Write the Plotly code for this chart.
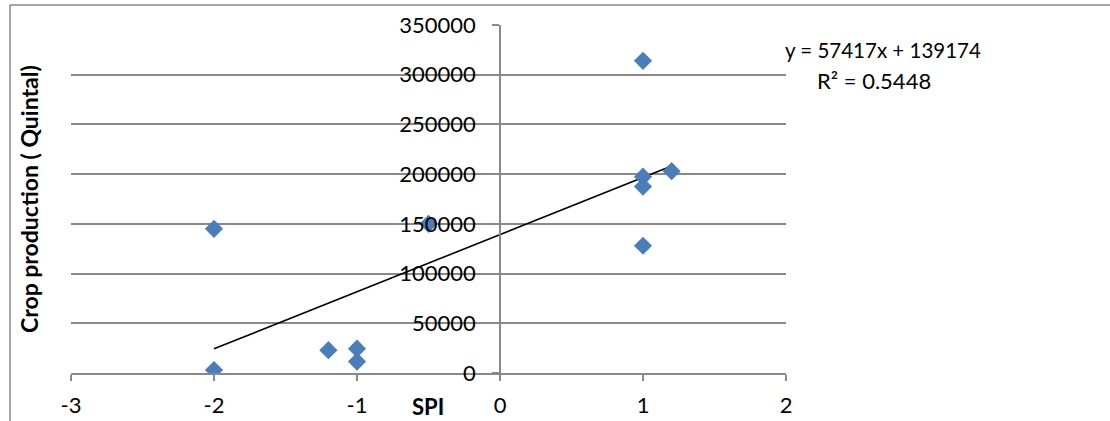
import plotly.graph_objects as go

# Observed SPI values and crop production (quintal)
spi = [-2, -2, -1.2, -1, -1, -0.5, 1, 1, 1, 1, 1.2]
production = [145000, 3000, 23000, 24500, 11500, 150000, 314000, 197500, 187500, 128000, 203000]

# Linear trendline as reported on the chart
slope = 57417
intercept = 139174
r_squared = 0.5448

x_ticks = [-3, -2, -1, 0, 1, 2]
y_ticks = [0, 50000, 100000, 150000, 200000, 250000, 300000, 350000]

W, H = 1110, 421
L, R, T, B = 71, 324, 25, 48
PW, PH = W - L - R, H - T - B

FONT = "Lato"
GRID = "#898989"
FS = 22


def px_x(px):
    return (px - L) / PW


def px_y(py):
    return 1 - (py - T) / PH


trend_x = [min(spi), max(spi)]
trend_y = [slope * v + intercept for v in trend_x]

fig = go.Figure()

fig.add_trace(go.Scatter(
    x=trend_x, y=trend_y, mode="lines",
    line=dict(color="black", width=1.6),
    hoverinfo="skip", showlegend=False,
))

fig.add_trace(go.Scatter(
    x=spi, y=production, mode="markers",
    marker=dict(symbol="diamond", size=14, color="#4a7ebb",
                line=dict(width=0)),
    showlegend=False,
))

fig.update_layout(
    width=W, height=H,
    margin=dict(l=L, r=R, t=T, b=B, autoexpand=False),
    paper_bgcolor="white", plot_bgcolor="white",
    font=dict(family=FONT, size=FS, color="black"),
    xaxis=dict(
        range=[-3, 2], tickvals=x_ticks, ticktext=[str(v) for v in x_ticks],
        showgrid=False, zeroline=False,
        showline=True, linecolor=GRID, linewidth=1.5,
        ticks="outside", ticklen=6, tickcolor=GRID, tickwidth=1.5,
        ticklabelstandoff=6, automargin=False,
        tickfont=dict(family=FONT, size=FS, color="black"),
    ),
    yaxis=dict(
        range=[0, 350000], tickvals=y_ticks, ticktext=[str(v) for v in y_ticks],
        anchor="free", position=0.6, side="left",
        showgrid=True, gridcolor=GRID, gridwidth=1.5,
        zeroline=False,
        showline=True, linecolor=GRID, linewidth=1.5,
        ticks="outside", ticklen=7, tickcolor=GRID, tickwidth=1.5,
        ticklabelstandoff=12, automargin=False,
        tickfont=dict(family=FONT, size=FS, color="black"),
    ),
)

# Axis titles
fig.add_annotation(
    text="<b>SPI</b>", xref="paper", yref="paper",
    x=px_x(428), y=px_y(406), showarrow=False,
    font=dict(family=FONT, size=FS, color="black"),
    xanchor="center", yanchor="middle",
)
fig.add_annotation(
    text="<b>Crop production ( Quintal)</b>", xref="paper", yref="paper",
    x=px_x(29), y=px_y(199), showarrow=False, textangle=-90,
    font=dict(family=FONT, size=23, color="black"),
    xanchor="center", yanchor="middle",
)

# Trendline equation and R²
fig.add_annotation(
    text=f"y = {slope}x + {intercept}", xref="paper", yref="paper",
    x=px_x(783), y=px_y(50), showarrow=False,
    font=dict(family=FONT, size=20.5, color="black"),
    xanchor="left", yanchor="middle",
)
fig.add_annotation(
    text=f"R² = {r_squared}", xref="paper", yref="paper",
    x=px_x(815), y=px_y(80), showarrow=False,
    font=dict(family=FONT, size=FS, color="black"),
    xanchor="left", yanchor="middle",
)

# Chart frame (left and top edges)
frame = dict(type="line", xref="paper", yref="paper",
             line=dict(color=GRID, width=1.5))
fig.add_shape(**frame, x0=px_x(10), x1=px_x(W + 5), y0=px_y(5), y1=px_y(5))
fig.add_shape(**frame, x0=px_x(10), x1=px_x(10), y0=px_y(5), y1=px_y(H + 5))

fig.write_html("out.html")
